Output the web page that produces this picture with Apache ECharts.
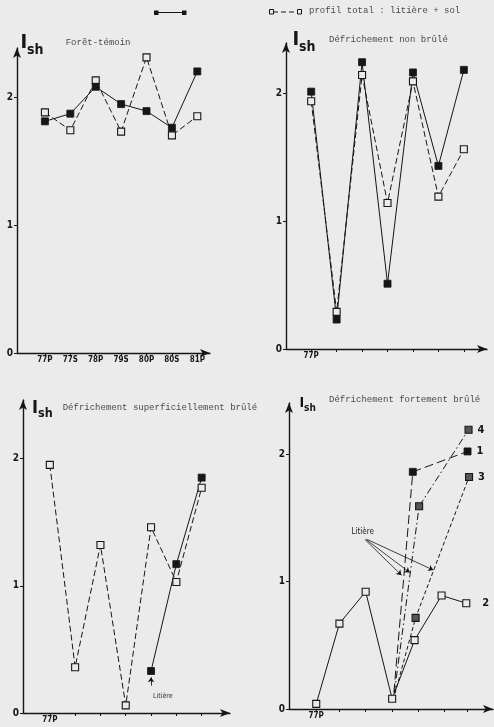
<!DOCTYPE html>
<html><head><meta charset="utf-8">
<script src="https://cdn.jsdelivr.net/npm/echarts@6/dist/echarts.min.js"></script>
<style>html,body{margin:0;padding:0;background:#ebebeb}#c{width:494px;height:727px}</style>
</head><body><div id="c"></div>
<script>
// ---- data ----
const periods = ['77P','77S','78P','79S','80P','80S','81P'];
const idx = [0,1,2,3,4,5,6];
// Forêt-témoin
const foretLitiere = [1.81,1.87,2.08,1.945,1.89,1.76,2.20];
const foretTotal   = [1.88,1.74,2.13,1.73,2.31,1.70,1.85];
// Défrichement non brûlé
const nonBrLitiere = [2.01,0.23,2.24,0.51,2.16,1.43,2.18];
const nonBrTotal   = [1.935,0.29,2.14,1.14,2.09,1.19,1.56];
// Défrichement superficiellement brûlé
const superTotal   = [1.95,0.36,1.32,0.06,1.46,1.03,1.77];
const superLitiere = [null,null,null,null,0.33,1.17,1.85];
// Défrichement fortement brûlé
const fortTicks = [0,0.91,1.96,3.01,4.04,5.06,6];
const fort2X = [0,0.92,1.96,3.01,3.9,4.97,5.95];
const fort2Y = [0.04,0.67,0.92,0.08,0.54,0.89,0.83];
const fort1X = [3.08,3.83,6.0];
const fort1Y = [0.13,1.86,2.02];
const fort4X = [3.1,4.08,6.04];
const fort4Y = [0.13,1.59,2.19];
const fort3X = [3.12,3.94,6.06];
const fort3Y = [0.12,0.715,1.82];
const yTicks = [0,1,2];

const BG = '#ebebeb', INK = '#161616';
const chart = echarts.init(document.getElementById('c'), null, {renderer:'canvas'});

function xAxis(gi, min, max, ticks, labels){
  return {type:'value', gridIndex:gi, min:min, max:max,
    splitLine:{show:false},
    axisLine:{onZero:false, lineStyle:{color:INK,width:1.4}, symbol:['none','arrow'], symbolSize:[6,10]},
    axisTick:{show:true, length:3, customValues:ticks, lineStyle:{color:INK,width:1}},
    axisLabel:{show:true, customValues:ticks.slice(0,labels.length), margin:3,
      formatter:(v)=>{const i=ticks.indexOf(v);return i>=0&&i<labels.length?labels[i]:'';},
      fontFamily:'DejaVu Sans Condensed', fontWeight:'bold', fontSize:8, color:INK}
  };
}
function yAxis(gi, max){
  return {type:'value', gridIndex:gi, min:0, max:max,
    splitLine:{show:false},
    axisLine:{onZero:false, lineStyle:{color:INK,width:1.4}, symbol:['none','arrow'], symbolSize:[6,10]},
    axisTick:{show:true, length:3, customValues:yTicks, lineStyle:{color:INK,width:1}},
    axisLabel:{show:true, customValues:yTicks, margin:4,
      fontFamily:'DejaVu Sans Condensed', fontWeight:'bold', fontSize:10, color:INK}
  };
}
const filled = {symbol:'rect', symbolSize:7, itemStyle:{color:INK, borderColor:INK, borderWidth:0.8}};
const open = {symbol:'rect', symbolSize:7, itemStyle:{color:BG, borderColor:INK, borderWidth:1.1}};
const half = {symbol:'rect', symbolSize:7, itemStyle:{color:'#555', borderColor:INK, borderWidth:1.1}};

function line(gi, xs, ys, mk, dash, extra){
  const data = [];
  xs.forEach((x,i)=>{ if(ys[i]!==null) data.push([x, ys[i]]); });
  return Object.assign({type:'line', xAxisIndex:gi, yAxisIndex:gi, data:data,
    symbol:mk.symbol, symbolSize:mk.symbolSize, itemStyle:mk.itemStyle,
    lineStyle:{color:INK, width:1, type:dash}, z:3, animation:false}, extra||{});
}
function withEnds(gi, xs, ys, mk, dash, endLabel, dist){
  const s = line(gi, xs, ys, mk, dash);
  s.data = s.data.map((p,i)=>{
    const o = {value:p};
    if(i===0 && endLabel!=='2') o.symbol='none';
    if(i===s.data.length-1) o.label={show:true, position:'right', distance:dist, formatter:endLabel,
      fontFamily:'DejaVu Sans Condensed', fontWeight:'bold', fontSize:11, color:INK};
    return o;
  });
  return s;
}

const sLitiere3 = line(2, idx, superLitiere, filled, 'solid');
sLitiere3.markLine = {silent:true, animation:false, symbol:['none','arrow'], symbolSize:5,
  lineStyle:{type:'solid', color:INK, width:0.9}, label:{show:false},
  data:[[{coord:[4,0.215]},{coord:[4,0.28]}]]};

const s3 = withEnds(3, fort3X, fort3Y, half, [4,2.5], '3', 5);
s3.markLine = {silent:true, animation:false, symbol:['none','arrow'], symbolSize:5,
  lineStyle:{type:'solid', color:INK, width:0.8}, label:{show:false},
  data:[
    [{coord:[1.93,1.33]},{coord:[3.38,1.05]}],
    [{coord:[1.97,1.33]},{coord:[3.71,1.07]}],
    [{coord:[2.02,1.33]},{coord:[4.64,1.09]}]
  ]};

function txt(x,y,text,size,opts){
  return Object.assign({type:'text', x:x, y:y, silent:true, style:Object.assign({text:text,
    font:(opts&&opts.font)||(size+'px "Liberation Mono"'), fill:(opts&&opts.fill)||'#4a4a4a',
    verticalAlign:'middle', align:'left'}, (opts&&opts.style)||{})});
}
function ish(x,yb,sI,sS){
  return [
    {type:'text', x:x, y:yb, silent:true, style:{text:'I', font:'bold '+sI+'px "DejaVu Sans Condensed"', fill:INK, verticalAlign:'bottom'}},
    {type:'text', x:x+sI*0.33, y:yb+sS*0.28, silent:true, style:{text:'sh', font:'bold '+sS+'px "DejaVu Sans Condensed"', fill:INK, verticalAlign:'bottom'}}
  ];
}

const option = {
  backgroundColor: BG,
  animation:false,
  grid:[
    {left:17, top:48, width:193, height:305},
    {left:286, top:43, width:201, height:306},
    {left:23, top:400, width:207, height:313},
    {left:289, top:403, width:204, height:306}
  ],
  xAxis:[
    xAxis(0, -1.1, 6.5, idx, periods),
    xAxis(1, -0.99, 6.91, idx, ['77P']),
    xAxis(2, -1.06, 7.12, idx, ['77P']),
    xAxis(3, -1.08, 7.01, fortTicks, ['77P'])
  ],
  yAxis:[ yAxis(0,2.383), yAxis(1,2.39), yAxis(2,2.46), yAxis(3,2.40) ],
  series:[
    line(0, idx, foretTotal, open, [6,3]),
    line(0, idx, foretLitiere, filled, 'solid'),
    line(1, idx, nonBrTotal, open, [6,3]),
    line(1, idx, nonBrLitiere, filled, 'solid'),
    line(2, idx, superTotal, open, [6,3]),
    sLitiere3,
    withEnds(3, fort2X, fort2Y, open, 'solid', '2', 12),
    withEnds(3, fort1X, fort1Y, filled, [9,4], '1', 5),
    withEnds(3, fort4X, fort4Y, half, [7,3,1.5,3], '4', 5),
    s3
  ],
  graphic:[
    // legend
    {type:'line', silent:true, shape:{x1:156,y1:12.5,x2:184,y2:12.5}, style:{stroke:INK,lineWidth:1}},
    {type:'rect', silent:true, shape:{x:154,y:10.5,width:4.5,height:4.5}, style:{fill:INK}},
    {type:'rect', silent:true, shape:{x:182,y:10.5,width:4.5,height:4.5}, style:{fill:INK}},
    {type:'line', silent:true, shape:{x1:273,y1:12,x2:297,y2:12}, style:{stroke:INK,lineWidth:1,lineDash:[5,3]}},
    {type:'rect', silent:true, shape:{x:269.5,y:9.5,width:4,height:4.5}, style:{fill:BG,stroke:INK,lineWidth:1}},
    {type:'rect', silent:true, shape:{x:297.5,y:9.5,width:4,height:4.5}, style:{fill:BG,stroke:INK,lineWidth:1}},
    txt(309, 11, 'profil total : litière + sol', 9),
    // titles
    ...ish(20.5, 53, 20, 14),
    txt(65.7, 42.7, 'Forêt-témoin', 9),
    ...ish(292.5, 50, 20, 14),
    txt(329, 40, 'Défrichement non brûlé', 9),
    ...ish(32, 417, 18, 12.5),
    txt(62.7, 407.7, 'Défrichement superficiellement brûlé', 9),
    ...ish(299.5, 410.5, 14, 10),
    txt(329, 400, 'Défrichement fortement brûlé', 9),
    // annotations
    txt(153, 696.5, 'Litière', 7, {font:'7px "DejaVu Sans Condensed"', fill:'#333'}),
    txt(351.5, 531.5, 'Litière', 8, {font:'8px "DejaVu Sans Condensed"', fill:'#222'})
  ]
};
chart.setOption(option);
</script>
</body></html>
